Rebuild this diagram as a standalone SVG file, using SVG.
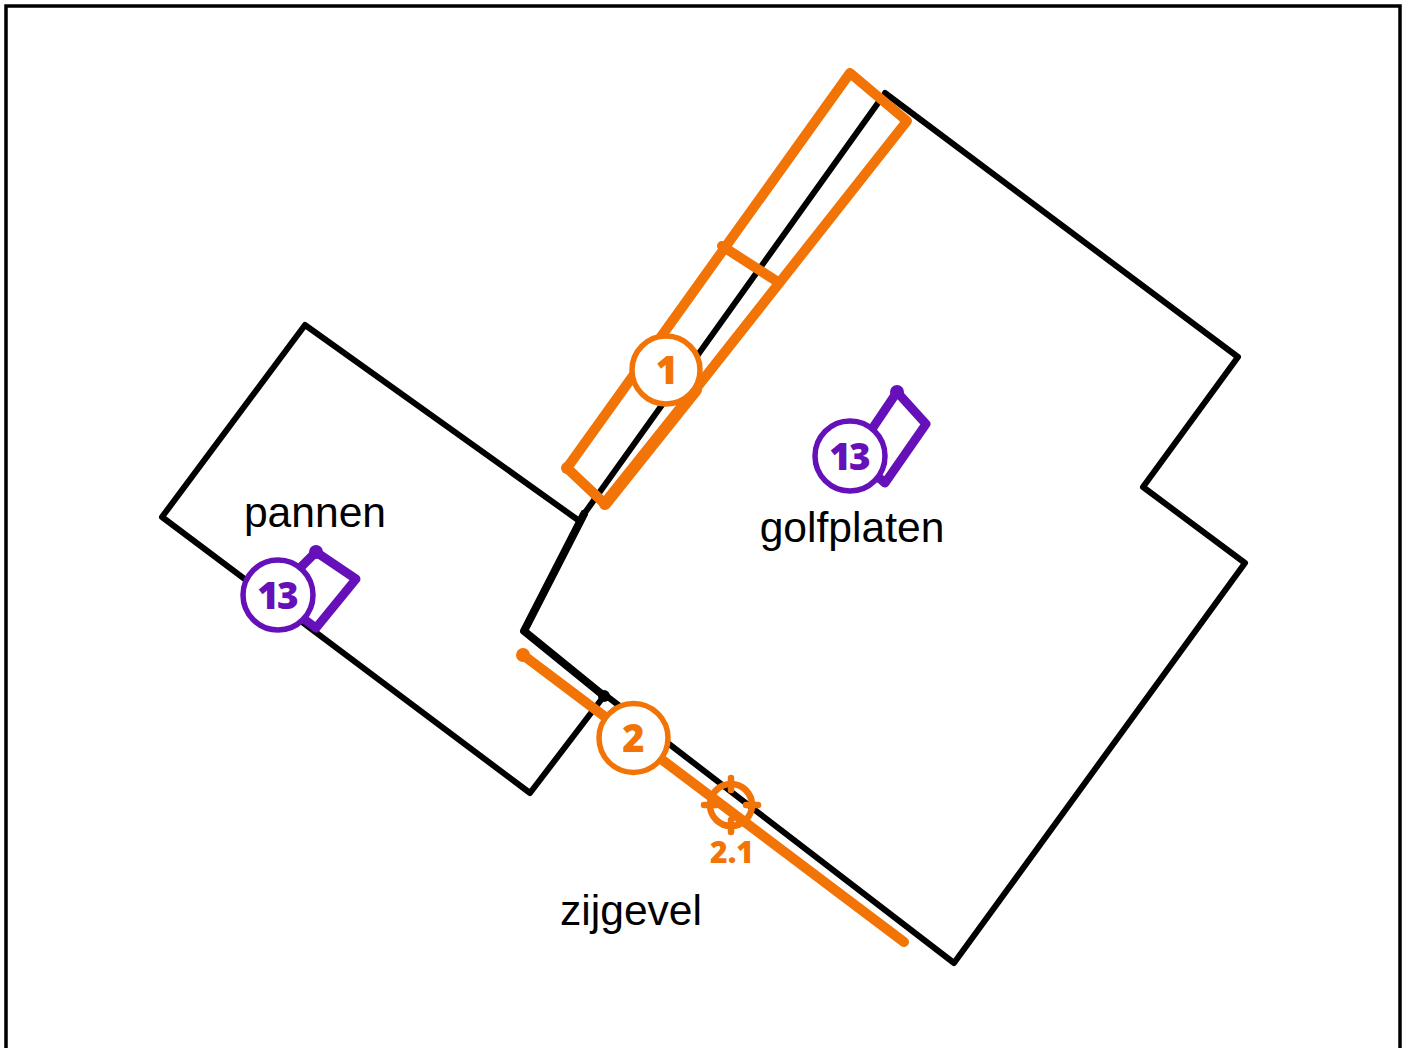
<svg xmlns="http://www.w3.org/2000/svg" width="1405" height="1048" viewBox="0 0 1405 1048">
<style>
.k{fill:none;stroke:#000;stroke-width:6;stroke-linejoin:round;stroke-linecap:round}
.o{fill:none;stroke:#f37406;stroke-width:10;stroke-linejoin:round;stroke-linecap:round}
.p{fill:none;stroke:#6510b8;stroke-width:9;stroke-linejoin:round;stroke-linecap:round}
.co{fill:#fff;stroke:#f37406;stroke-width:5.5}
.cp{fill:#fff;stroke:#6510b8;stroke-width:5.5}
.lb{font-family:"Liberation Sans",Arial,sans-serif;font-size:42.6px;fill:#000;text-anchor:middle}
.n{font-family:"Open Sans",sans-serif;font-weight:800;text-anchor:middle}
</style>
<rect x="6" y="6" width="1394" height="1060" fill="#fff" stroke="#000" stroke-width="3.5"/>
<g id="connectors">
<path class="k" d="M578 520L305 325L162 517L530 793L604 696"/>
<path class="k" d="M885 93L1238 357L1143 487L1245 563L954 963L604 694"/>
<path class="k" d="M878 103L584 514"/>
<path class="k" style="stroke-width:8" d="M584 514L524 631L604 696"/>
<circle cx="604" cy="696" r="6" fill="#000"/>
</g>
<g id="zone-1">
<path class="o" d="M850 73L907 121L605 504L567 468Z"/>
<path class="o" d="M722 246L778 282"/>
<path class="o" style="stroke-width:12" d="M696 390L605 504"/>
<circle cx="567" cy="468" r="6" fill="#f37406"/>
<circle class="co" cx="666" cy="370" r="34"/>
<text class="n" x="667" y="384" font-size="38" fill="#f37406">1</text>
</g>
<g id="zone-2">
<path class="o" d="M523 655L904 942"/>
<circle cx="523" cy="655" r="7" fill="#f37406"/>
<circle class="co" cx="633.5" cy="738" r="34.5"/>
<text class="n" x="633.5" y="752" font-size="38" fill="#f37406">2</text>
</g>
<g id="marker-2-1">
<circle cx="731" cy="805" r="21" fill="none" stroke="#f37406" stroke-width="6.5"/>
<path class="o" style="stroke-width:6.5" d="M731 778V790M731 820V832M704 805H716M746 805H758"/>
<text class="n" x="732" y="863" font-size="30" fill="#f37406">2.1</text>
</g>
<g id="roof-golfplaten">
<path class="p" d="M870 432L897 392L926 424L885 483L870 470"/>
<circle cx="897" cy="392" r="7" fill="#6510b8"/>
<circle class="cp" cx="850" cy="456" r="35"/>
<text class="n" x="849" y="470" font-size="37" letter-spacing="-2" fill="#6510b8">13</text>
<text class="lb" x="852" y="542">golfplaten</text>
</g>
<g id="roof-pannen">
<path class="p" d="M300 568L316 552L356 579L316 628L300 616"/>
<circle cx="316" cy="552" r="7" fill="#6510b8"/>
<circle class="cp" cx="278" cy="595" r="35"/>
<text class="n" x="277" y="609" font-size="37" letter-spacing="-2" fill="#6510b8">13</text>
<text class="lb" x="315" y="527">pannen</text>
</g>
<g id="label-zijgevel">
<text class="lb" x="631" y="925">zijgevel</text>
</g>
</svg>
